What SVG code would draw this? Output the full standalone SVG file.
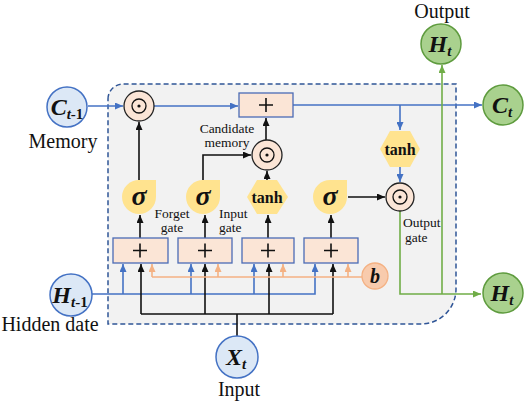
<svg xmlns="http://www.w3.org/2000/svg" width="526" height="402" viewBox="0 0 526 402">
<style>
.lbl{font-family:"Liberation Serif",serif;fill:#111}
.big{font-size:20px}
.sm{font-size:13.5px}
.sym{font-family:"Liberation Serif",serif;font-weight:bold;font-style:italic;fill:#111}
.bc{fill:#dce8f6;stroke:#4472c4;stroke-width:1.5}
.gc{fill:#a9d18e;stroke:#5e9b3e;stroke-width:1.5}
.box{fill:#fbe5d6;stroke:#4a6bb5;stroke-width:1.3}
.odot{fill:#fbe5d6;stroke:#222;stroke-width:1.3}
.sig{fill:#ffe38f}
.cross{stroke:#111;stroke-width:1.6;fill:none}
.k{stroke:#111;stroke-width:1.6;fill:none}
.b{stroke:#4472c4;stroke-width:1.6;fill:none}
.o{stroke:#f4b183;stroke-width:1.6;fill:none}
.g{stroke:#70ad47;stroke-width:1.6;fill:none}
</style>
<defs>
<marker id="ak" markerWidth="8" markerHeight="7" refX="8" refY="3.5" orient="auto" markerUnits="userSpaceOnUse"><path d="M0,0 L8,3.5 L0,7 z" fill="#111"/></marker>
<marker id="ab" markerWidth="8" markerHeight="7" refX="8" refY="3.5" orient="auto" markerUnits="userSpaceOnUse"><path d="M0,0 L8,3.5 L0,7 z" fill="#4472c4"/></marker>
<marker id="ao" markerWidth="8" markerHeight="7" refX="8" refY="3.5" orient="auto" markerUnits="userSpaceOnUse"><path d="M0,0 L8,3.5 L0,7 z" fill="#f4b183"/></marker>
<marker id="ag" markerWidth="8" markerHeight="7" refX="8" refY="3.5" orient="auto" markerUnits="userSpaceOnUse"><path d="M0,0 L8,3.5 L0,7 z" fill="#70ad47"/></marker>
<symbol id="dot" viewBox="-15 -15 30 30" overflow="visible"><circle r="7" fill="none" stroke="#111" stroke-width="1.3"/><circle r="1.6" fill="#111"/></symbol>
</defs>

<g id="cell">
<path d="M108,99 A15,15 0 0 1 123,84 L456,84 L456,289 A35,35 0 0 1 421,324 L108,324 Z" fill="#f2f2f2" stroke="#2f5597" stroke-width="1.5" stroke-dasharray="5,3"/>
</g>

<g id="connectors">
<path class="b" d="M88,106 H123" marker-end="url(#ab)"/>
<path class="b" d="M154,106 H238" marker-end="url(#ab)"/>
<path class="b" d="M293,105 H482" marker-end="url(#ab)"/>
<path class="b" d="M400,105 V130" marker-end="url(#ab)"/>
<path class="b" d="M400,167 V182" marker-end="url(#ab)"/>
<path class="b" d="M92,294 H315 V264" marker-end="url(#ab)"/>
<path class="b" d="M123,294 V264" marker-end="url(#ab)"/>
<path class="b" d="M191,294 V264" marker-end="url(#ab)"/>
<path class="b" d="M254,294 V264" marker-end="url(#ab)"/>
<path class="k" d="M237,336 V314 M141,314 H333"/>
<path class="k" d="M141,314 V264" marker-end="url(#ak)"/>
<path class="k" d="M205,314 V264" marker-end="url(#ak)"/>
<path class="k" d="M269,314 V264" marker-end="url(#ak)"/>
<path class="k" d="M333,314 V264" marker-end="url(#ak)"/>
<path class="k" d="M140,238 V215" marker-end="url(#ak)"/>
<path class="k" d="M205,238 V215" marker-end="url(#ak)"/>
<path class="k" d="M268,238 V215" marker-end="url(#ak)"/>
<path class="k" d="M331,238 V215" marker-end="url(#ak)"/>
<path class="k" d="M139,180 V122" marker-end="url(#ak)"/>
<path class="k" d="M203,180 V155 H251" marker-end="url(#ak)"/>
<path class="k" d="M267,180 V171" marker-end="url(#ak)"/>
<path class="k" d="M266,140 V118" marker-end="url(#ak)"/>
<path class="k" d="M348,197 H385" marker-end="url(#ak)"/>
<path class="o" d="M152,277 H362"/>
<path class="o" d="M152,277 V264" marker-end="url(#ao)"/>
<path class="o" d="M218,277 V264" marker-end="url(#ao)"/>
<path class="o" d="M283,277 V264" marker-end="url(#ao)"/>
<path class="o" d="M348,277 V264" marker-end="url(#ao)"/>
<path class="g" d="M400,211 V294 H481" marker-end="url(#ag)"/>
<path class="g" d="M442,294 V65" marker-end="url(#ag)"/>
</g>

<g id="c-prev">
<circle class="bc" cx="67" cy="107" r="20"/>
<text class="sym" x="67" y="115" text-anchor="middle" font-size="24">C<tspan font-size="15" dy="4">t</tspan><tspan font-size="15" font-style="normal">-1</tspan></text>
<text class="lbl big" x="63" y="148" text-anchor="middle">Memory</text>
</g>

<g id="h-prev">
<circle class="bc" cx="71" cy="295" r="21"/>
<text class="sym" x="70" y="303" text-anchor="middle" font-size="24">H<tspan font-size="15" dy="4">t</tspan><tspan font-size="15" font-style="normal">-1</tspan></text>
<text class="lbl big" x="50" y="331" text-anchor="middle">Hidden date</text>
</g>

<g id="x-t">
<circle class="bc" cx="237" cy="357" r="21"/>
<text class="sym" x="236" y="365" text-anchor="middle" font-size="24">X<tspan font-size="15" dy="4">t</tspan></text>
<text class="lbl big" x="239" y="396" text-anchor="middle">Input</text>
</g>

<g id="c-t">
<circle class="gc" cx="503" cy="105" r="20"/>
<text class="sym" x="502" y="113" text-anchor="middle" font-size="24">C<tspan font-size="15" dy="4">t</tspan></text>
</g>

<g id="h-out">
<circle class="gc" cx="441" cy="44" r="20"/>
<text class="sym" x="440" y="52" text-anchor="middle" font-size="24">H<tspan font-size="15" dy="4">t</tspan></text>
<text class="lbl big" x="442" y="18" text-anchor="middle">Output</text>
</g>

<g id="h-t">
<circle class="gc" cx="503" cy="293" r="20"/>
<text class="sym" x="502" y="301" text-anchor="middle" font-size="24">H<tspan font-size="15" dy="4">t</tspan></text>
</g>

<g id="bias">
<circle cx="375" cy="276" r="13" fill="#f8cbad" stroke="#f4b183" stroke-width="1.3"/>
<text class="sym" x="375" y="283" text-anchor="middle" font-size="20">b</text>
</g>

<g id="forget-mul">
<circle class="odot" cx="139" cy="106" r="15"/>
<use href="#dot" x="124" y="91" width="30" height="30"/>
</g>
<g id="cell-add">
<rect class="box" x="239" y="93" width="54" height="24"/>
<path class="cross" d="M259,105 H273 M266,98 V112"/>
</g>
<g id="cand-mul">
<circle class="odot" cx="267" cy="155" r="15"/>
<use href="#dot" x="252" y="140" width="30" height="30"/>
<text class="lbl sm" x="227" y="133" text-anchor="middle">Candidate</text>
<text class="lbl sm" x="227" y="147" text-anchor="middle">memory</text>
</g>
<g id="out-tanh">
<polygon class="sig" points="380,149 390,131 410,131 420,149 410,167 390,167"/>
<text class="lbl" x="400" y="155" text-anchor="middle" font-size="16" font-weight="bold">tanh</text>
</g>
<g id="out-mul">
<circle class="odot" cx="400" cy="197" r="14"/>
<use href="#dot" x="385" y="182" width="30" height="30"/>
<text class="lbl sm" x="403" y="227">Output</text>
<text class="lbl sm" x="405" y="242">gate</text>
</g>

<g id="forget-sig">
<path class="sig" d="M139,180 H156 V197 A17,17 0 0 1 139,214 A17,17 0 0 1 122,197 A17,17 0 0 1 139,180 Z"/>
<text class="sym" x="139" y="205" text-anchor="middle" font-size="28">σ</text>
<text class="lbl sm" x="172" y="218" text-anchor="middle">Forget</text>
<text class="lbl sm" x="172" y="232" text-anchor="middle">gate</text>
</g>
<g id="input-sig">
<path class="sig" d="M203,180 H220 V197 A17,17 0 0 1 203,214 A17,17 0 0 1 186,197 A17,17 0 0 1 203,180 Z"/>
<text class="sym" x="203" y="205" text-anchor="middle" font-size="28">σ</text>
<text class="lbl sm" x="219" y="218">Input</text>
<text class="lbl sm" x="219" y="232">gate</text>
</g>
<g id="cand-tanh">
<polygon class="sig" points="247,197 257,180 277,180 288,197 277,214 257,214"/>
<text class="lbl" x="267" y="203" text-anchor="middle" font-size="16" font-weight="bold">tanh</text>
</g>
<g id="output-sig">
<path class="sig" d="M330,180 H347 V197 A17,17 0 0 1 330,214 A17,17 0 0 1 313,197 A17,17 0 0 1 330,180 Z"/>
<text class="sym" x="330" y="205" text-anchor="middle" font-size="28">σ</text>
</g>

<g id="add1"><rect class="box" x="113" y="238" width="55" height="25"/><path class="cross" d="M133,250.5 H147 M140,243.5 V257.5"/></g>
<g id="add2"><rect class="box" x="178" y="238" width="54" height="25"/><path class="cross" d="M198,250.5 H212 M205,243.5 V257.5"/></g>
<g id="add3"><rect class="box" x="242" y="238" width="52" height="25"/><path class="cross" d="M261,250.5 H275 M268,243.5 V257.5"/></g>
<g id="add4"><rect class="box" x="304" y="238" width="54" height="25"/><path class="cross" d="M324,250.5 H338 M331,243.5 V257.5"/></g>
</svg>
